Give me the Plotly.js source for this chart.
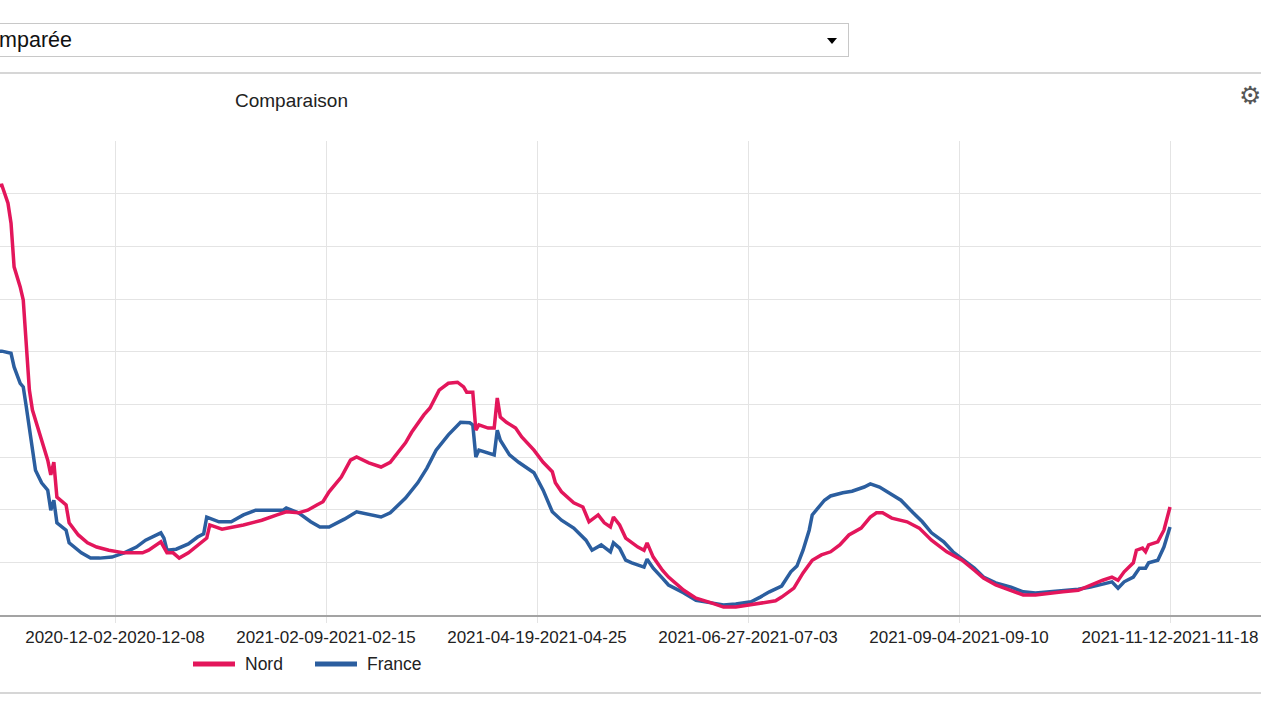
<!DOCTYPE html>
<html>
<head>
<meta charset="utf-8">
<script src="https://cdn.plot.ly/plotly-3.0.1.min.js"></script>
<style>
  html, body { margin:0; padding:0; background:#fff; width:1261px; height:709px; overflow:hidden; position:relative; font-family:"Liberation Sans", Arial, sans-serif; }
  #chart { position:absolute; left:0; top:0; width:1261px; height:709px; }
  .hline { position:absolute; left:0; width:1261px; height:2px; background:#d6d6d6; z-index:2; }
  #select { position:absolute; left:-300px; top:23px; width:1147px; height:32px; border:1px solid #c8c8c8; background:#fff; z-index:2; }
  #selText { position:absolute; left:-300px; top:26px; width:372px; text-align:right; font-size:21.5px; color:#111; z-index:3; line-height:28px; }
  #arrow { position:absolute; left:827px; top:38px; width:0; height:0; border-left:5.5px solid transparent; border-right:5.5px solid transparent; border-top:6px solid #000; z-index:3; }
</style>
</head>
<body>
<div id="chart"></div>
<div id="select"></div>
<div id="selText">Évolution comparée</div>
<div id="arrow"></div>
<div class="hline" style="top:72px;"></div>
<div class="hline" style="top:692px;"></div>
<script>
// ---- Data ----
const nordDates = [
 "2020-10-25","2020-10-26","2020-10-28","2020-10-29","2020-10-30","2020-11-01","2020-11-02","2020-11-03","2020-11-04","2020-11-05",
 "2020-11-07","2020-11-08","2020-11-10","2020-11-11","2020-11-12","2020-11-13","2020-11-16","2020-11-17","2020-11-20","2020-11-23",
 "2020-11-26","2020-11-30","2020-12-05","2020-12-11","2020-12-13","2020-12-17","2020-12-19","2020-12-21","2020-12-23","2020-12-26",
 "2020-12-29","2021-01-01","2021-01-02","2021-01-06","2021-01-13","2021-01-19","2021-01-24","2021-01-27","2021-01-31","2021-02-03",
 "2021-02-06","2021-02-08","2021-02-10","2021-02-14","2021-02-17","2021-02-19","2021-02-23","2021-02-27","2021-03-02","2021-03-05",
 "2021-03-07","2021-03-09","2021-03-13","2021-03-15","2021-03-18","2021-03-21","2021-03-24","2021-03-26","2021-03-27","2021-03-29",
 "2021-03-30","2021-03-31","2021-04-03","2021-04-05","2021-04-06","2021-04-07","2021-04-09","2021-04-12","2021-04-14","2021-04-18",
 "2021-04-21","2021-04-24","2021-04-25","2021-04-27","2021-05-01","2021-05-04","2021-05-06","2021-05-09","2021-05-11","2021-05-13",
 "2021-05-14","2021-05-16","2021-05-18","2021-05-22","2021-05-24","2021-05-25","2021-05-27","2021-05-30","2021-06-01","2021-06-06",
 "2021-06-10","2021-06-15","2021-06-19","2021-06-23","2021-06-28","2021-07-02","2021-07-06","2021-07-08","2021-07-12","2021-07-15",
 "2021-07-18","2021-07-21","2021-07-24","2021-07-27","2021-07-30","2021-08-03","2021-08-06","2021-08-08","2021-08-10","2021-08-13",
 "2021-08-18","2021-08-22","2021-08-26","2021-08-31","2021-09-05","2021-09-09","2021-09-12","2021-09-16","2021-09-21","2021-09-25",
 "2021-09-29","2021-10-04","2021-10-08","2021-10-13","2021-10-17","2021-10-21","2021-10-24","2021-10-26","2021-10-28","2021-10-31",
 "2021-11-01","2021-11-03","2021-11-04","2021-11-05","2021-11-08","2021-11-10","2021-11-12"
];
const nordValues = [
 815,816,782,744,661,623,598,509,427,389,
 351,327,294,266,290,224,209,175,152,137,
 129,123,118,118,123,139,118,118,108,118,
 133,146,171,163,171,180,190,196,194,199,
 209,215,234,262,294,300,289,281,290,313,
 327,347,380,393,427,440,442,433,423,423,
 351,361,355,355,412,376,366,355,338,313,
 290,272,251,234,213,205,177,190,175,167,
 186,171,146,129,123,137,110,85,72,47,
 32,23,15,15,19,23,27,34,51,80,
 104,114,120,133,152,165,186,194,194,184,
 177,165,142,120,104,85,70,57,47,38,
 38,42,44,47,57,66,72,66,82,99,
 123,127,120,133,139,161,205
];
const franceDates = [
 "2020-10-25","2020-10-26","2020-10-29","2020-10-30","2020-11-01","2020-11-02","2020-11-03","2020-11-05","2020-11-06","2020-11-08",
 "2020-11-10","2020-11-11","2020-11-12","2020-11-13","2020-11-16","2020-11-17","2020-11-21","2020-11-24","2020-11-27","2020-12-01",
 "2020-12-05","2020-12-09","2020-12-12","2020-12-17","2020-12-18","2020-12-19","2020-12-22","2020-12-26","2020-12-29","2020-12-31",
 "2021-01-01","2021-01-05","2021-01-09","2021-01-13","2021-01-17","2021-01-22","2021-01-26","2021-01-27","2021-01-31","2021-02-04",
 "2021-02-07","2021-02-10","2021-02-15","2021-02-19","2021-02-22","2021-02-27","2021-03-02","2021-03-07","2021-03-11","2021-03-14",
 "2021-03-17","2021-03-21","2021-03-25","2021-03-28","2021-03-29","2021-03-30","2021-03-31","2021-04-05","2021-04-06","2021-04-07",
 "2021-04-10","2021-04-13","2021-04-18","2021-04-21","2021-04-24","2021-04-27","2021-05-01","2021-05-05","2021-05-07","2021-05-10",
 "2021-05-13","2021-05-14","2021-05-16","2021-05-18","2021-05-20","2021-05-24","2021-05-25","2021-05-27","2021-05-30","2021-06-01",
 "2021-06-06","2021-06-10","2021-06-15","2021-06-19","2021-06-23","2021-06-28","2021-07-01","2021-07-04","2021-07-08","2021-07-11",
 "2021-07-13","2021-07-15","2021-07-17","2021-07-18","2021-07-22","2021-07-24","2021-07-28","2021-07-31","2021-08-04","2021-08-06",
 "2021-08-09","2021-08-12","2021-08-16","2021-08-20","2021-08-23","2021-08-26","2021-08-30","2021-09-02","2021-09-07","2021-09-09",
 "2021-09-12","2021-09-16","2021-09-21","2021-09-25","2021-09-29","2021-10-04","2021-10-08","2021-10-13","2021-10-17","2021-10-21",
 "2021-10-24","2021-10-26","2021-10-28","2021-10-31","2021-11-02","2021-11-04","2021-11-05","2021-11-08","2021-11-10","2021-11-12"
];
const franceValues = [
 501,501,497,471,440,433,395,308,275,251,
 237,199,218,175,161,137,118,108,108,110,
 118,129,142,156,146,123,125,135,148,154,
 186,177,177,190,199,199,199,203,194,177,
 167,167,182,196,192,186,194,222,251,279,
 313,342,366,365,361,300,313,304,351,332,
 304,290,270,237,196,180,165,142,123,133,
 120,137,127,104,99,91,106,89,70,57,
 42,28,23,19,21,25,34,44,55,82,
 93,123,161,190,218,226,232,235,243,249,
 243,232,218,194,177,156,139,120,99,89,
 72,61,53,44,42,44,47,49,53,59,
 63,51,63,72,89,89,99,104,129,167
];
const tickDates = ["2020-12-02","2021-02-09","2021-04-19","2021-06-27","2021-09-04","2021-11-12"];
const tickLabels = ["2020-12-02-2020-12-08","2021-02-09-2021-02-15","2021-04-19-2021-04-25","2021-06-27-2021-07-03","2021-09-04-2021-09-10","2021-11-12-2021-11-18"];
const seriesNames = ["Nord","France"];
const seriesColors = ["#e3165b","#2b5e9f"];

// ---- Layout helpers (pixel -> paper) ----
const W = 1261, H = 709, TOP = 141, BOTTOM = 615;
const px = x => x / W;
const py = y => (BOTTOM - y) / (BOTTOM - TOP);
const FONT = '"Liberation Sans", Arial, sans-serif';

const traces = [
  { x: franceDates, y: franceValues, name: seriesNames[1], type: 'scatter', mode: 'lines',
    line: { color: seriesColors[1], width: 3.5 }, hoverinfo: 'skip', showlegend: false },
  { x: nordDates, y: nordValues, name: seriesNames[0], type: 'scatter', mode: 'lines',
    line: { color: seriesColors[0], width: 3.5 }, hoverinfo: 'skip', showlegend: false }
];

const layout = {
  width: W, height: H,
  margin: { l: 0, r: 0, t: TOP, b: H - BOTTOM, pad: 0 },
  paper_bgcolor: 'rgba(0,0,0,0)', plot_bgcolor: 'rgba(0,0,0,0)',
  showlegend: false,
  title: { text: 'Comparaison', x: px(235), xanchor: 'left', xref: 'container',
           y: 1 - 100 / H, yanchor: 'middle', yref: 'container',
           font: { family: FONT, size: 19, color: '#222' } },
  xaxis: {
    type: 'date', range: ['2020-10-25 09:26', '2021-12-11 18:00'],
    tickmode: 'array', tickvals: tickDates, ticktext: tickLabels,
    showgrid: true, gridcolor: '#e4e4e4', gridwidth: 1,
    ticks: 'outside', ticklen: 6, tickcolor: '#e4e4e4', tickwidth: 1,
    showline: true, linecolor: '#a3a3a3', linewidth: 2,
    zeroline: false, fixedrange: true,
    tickfont: { family: FONT, size: 17, color: '#222' }
  },
  yaxis: {
    range: [0, 900], tick0: 0, dtick: 100,
    showticklabels: false, showgrid: true, gridcolor: '#e4e4e4', gridwidth: 1,
    zeroline: false, showline: false, fixedrange: true
  },
  shapes: [
    { type: 'line', xref: 'paper', yref: 'paper', x0: px(193), x1: px(235), y0: py(664), y1: py(664),
      line: { color: seriesColors[0], width: 5 } },
    { type: 'line', xref: 'paper', yref: 'paper', x0: px(315), x1: px(357), y0: py(664), y1: py(664),
      line: { color: seriesColors[1], width: 5 } }
  ],
  annotations: [
    { xref: 'paper', yref: 'paper', x: px(243), y: py(664), xanchor: 'left', yanchor: 'middle',
      text: seriesNames[0], showarrow: false, font: { family: FONT, size: 17.5, color: '#222' } },
    { xref: 'paper', yref: 'paper', x: px(365), y: py(664), xanchor: 'left', yanchor: 'middle',
      text: seriesNames[1], showarrow: false, font: { family: FONT, size: 17.5, color: '#222' } },
    { xref: 'paper', yref: 'paper', x: px(1250), y: py(96), xanchor: 'center', yanchor: 'middle',
      text: '\u2699', showarrow: false, font: { family: '"DejaVu Sans"', size: 25, color: '#555' } }
  ]
};

Plotly.newPlot('chart', traces, layout, { displayModeBar: false, staticPlot: true });
</script>
</body>
</html>
